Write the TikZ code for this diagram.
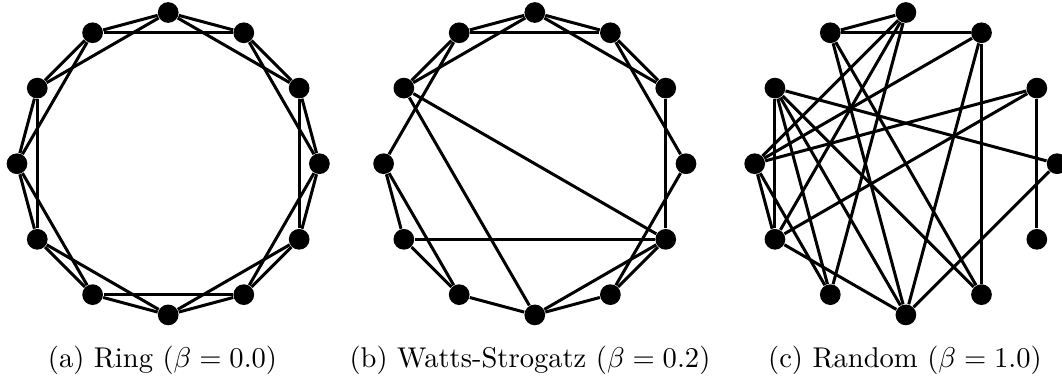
\documentclass[tikz,border=0pt]{standalone}
\begin{document}
\begin{tikzpicture}[x=0.35pt,y=-0.35pt,
  vertex/.style={circle,fill=black,inner sep=0pt,minimum size=7.25pt},
  edge/.style={line width=1.05pt,black},
  captext/.style={anchor=base,inner sep=0pt,font=\fontsize{10}{12}\selectfont}]
\useasboundingbox (0,0) rectangle (1062,378);
% node positions
\def\cy{163.7}
\def\rr{151.2}
\foreach \g/\cx in {a/168.2,b/534.8,c/905.9}{
  \foreach \k in {0,...,11}{
    \pgfmathsetmacro\px{\cx+\rr*cos(90-30*\k)}
    \pgfmathsetmacro\py{\cy-\rr*sin(90-30*\k)}
    \node[vertex] (\g\k) at (\px,\py) {};
  }
}
% (a) ring lattice
\foreach \i in {0,...,11}{
  \pgfmathtruncatemacro\j{mod(\i+1,12)}
  \pgfmathtruncatemacro\m{mod(\i+2,12)}
  \draw[edge] (a\i) -- (a\j);
  \draw[edge] (a\i) -- (a\m);
}
% (b) Watts-Strogatz
\foreach \u/\v in {0/1,0/2,0/11,0/10,11/1,11/10,11/9,1/2,1/3,2/4,3/5,4/5,4/6,4/8,4/10,5/6,6/7,6/10,7/8,7/9,8/9}{
  \draw[edge] (b\u) -- (b\v);
}
% (c) Random
\foreach \u/\v in {0/11,11/1,0/9,0/8,0/7,1/9,1/5,1/6,11/6,11/5,10/3,10/8,10/7,10/6,10/5,2/9,2/8,2/4,3/6,9/8,9/7,8/6}{
  \draw[edge] (c\u) -- (c\v);
}
% captions
\node[captext] (capa) at (162.5,367) {(a) Ring ($\beta = 0.0$)};
\node[captext] (capb) at (530,367) {(b) Watts-Strogatz ($\beta = 0.2$)};
\node[captext] (capc) at (905,367) {(c) Random ($\beta = 1.0$)};
\end{tikzpicture}
\end{document}
